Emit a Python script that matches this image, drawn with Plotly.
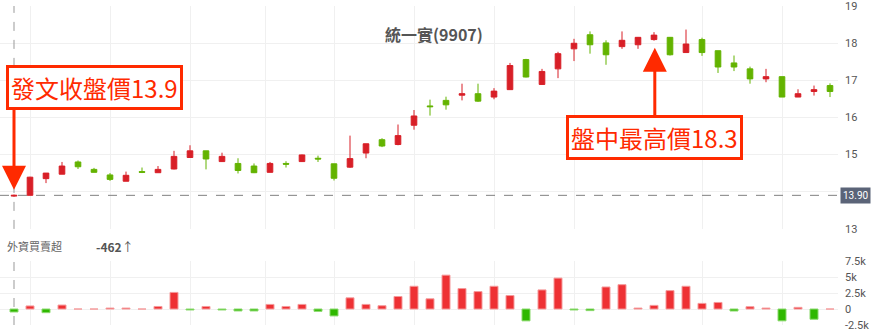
import plotly.graph_objects as go

# ---------------- data ----------------
idx = list(range(52))
opens = [13.88, 13.90, 14.35, 14.47, 14.80, 14.60, 14.45, 14.28, 14.54, 14.51,
         14.61, 14.92, 15.10, 14.81, 14.76, 14.69, 14.52, 14.76, 14.81, 14.90,
         14.75, 14.66, 15.04, 15.40, 15.27, 15.79, 16.31, 16.46, 16.60, 16.64,
         16.55, 16.75, 17.56, 16.89, 17.31, 17.85, 18.23, 18.01, 17.91, 17.96,
         18.10, 18.16, 17.75, 18.10, 17.80, 17.47, 17.31, 17.04, 17.10, 16.55,
         16.70, 16.86]
highs = [13.92, 14.40, 14.50, 14.80, 14.84, 14.64, 14.50, 14.54, 14.65, 14.69,
         15.10, 15.25, 15.10, 15.05, 14.90, 14.76, 14.80, 14.82, 15.00, 14.97,
         14.75, 15.51, 15.29, 15.44, 15.81, 16.20, 16.48, 16.56, 16.91, 16.91,
         16.79, 17.47, 17.58, 17.31, 17.77, 18.12, 18.32, 18.08, 18.32, 18.17,
         18.30, 18.17, 18.37, 18.15, 17.80, 17.67, 17.37, 17.31, 17.10, 16.76,
         16.86, 16.92]
lows = [13.86, 13.90, 14.23, 14.47, 14.61, 14.52, 14.29, 14.28, 14.50, 14.51,
        14.60, 14.92, 14.60, 14.80, 14.49, 14.50, 14.52, 14.65, 14.80, 14.80,
        14.30, 14.64, 14.90, 15.20, 15.25, 15.67, 16.05, 16.21, 16.46, 16.42,
        16.49, 16.75, 17.08, 16.88, 17.06, 17.52, 17.72, 17.42, 17.85, 17.85,
        18.07, 17.67, 17.75, 17.66, 17.20, 17.25, 16.91, 16.95, 16.55, 16.55,
        16.59, 16.55]
closes = [13.90, 14.39, 14.50, 14.69, 14.67, 14.52, 14.33, 14.44, 14.52, 14.60,
          14.95, 15.10, 14.88, 14.95, 14.57, 14.51, 14.76, 14.74, 14.99, 14.88,
          14.36, 14.89, 15.29, 15.23, 15.51, 16.04, 16.29, 16.34, 16.64, 16.44,
          16.71, 17.40, 17.09, 17.24, 17.72, 18.00, 17.96, 17.69, 18.08, 18.16,
          18.22, 17.69, 17.98, 17.75, 17.36, 17.36, 17.04, 17.10, 16.55, 16.64,
          16.75, 16.70]
foreign = [-462, 480, -570, 620, 0, 0, 150, 150, 0, 400,
           2600, -150, 400, -150, -300, -300, 720, 400, 720, -360,
           -1080, 1750, 720, 515, 1960, 3560, 1600, 5300, 3200, 2730,
           3560, 2110, -1850, 2990, 4840, -150, -250, 3450, 3810, 150,
           570, 2880, 3560, 880, 1030, -310, 360, 150, -1850, 260,
           -1600, 0]

title_text = "統一實(9907)"
ref_close = 13.90
left_label = "發文收盤價13.9"
right_label = "盤中最高價18.3"
foreign_label = "外資買賣超"
price_ticks = [13, 14, 15, 16, 17, 18, 19]
price_ticktext = ["13", "", "15", "16", "17", "18", "19"]
flow_ticks = [-2500, 0, 2500, 5000, 7500]
flow_ticktext = ["-2.5k", "0", "2.5k", "5k", "7.5k"]
grid_x = [1, 6, 11, 15.7, 20.05, 25, 30, 35, 43, 48]

RED = "#d81f27"
GREEN = "#63b300"
ANN = "#ff2a00"
CJK = "Noto Sans CJK TC"

fig = go.Figure()

fig.add_trace(go.Candlestick(
    x=idx, open=opens, high=highs, low=lows, close=closes,
    increasing=dict(line=dict(color=RED, width=1), fillcolor=RED),
    decreasing=dict(line=dict(color=GREEN, width=1), fillcolor=GREEN),
    whiskerwidth=0, xaxis="x", yaxis="y", showlegend=False, hoverinfo="skip"))

bar_colors = ["#ee3134" if v >= 0 else "#2fb800" for v in foreign]
bar_lines = ["#f59a9b" if v >= 0 else "#8ad96c" for v in foreign]
fig.add_trace(go.Bar(
    x=idx, y=foreign, width=0.5,
    marker=dict(color=bar_colors, line=dict(color=bar_lines, width=1)),
    xaxis="x2", yaxis="y2", showlegend=False, hoverinfo="skip"))

H_TOP = 4
H_BOT = 325
PH = H_BOT - H_TOP


def py(px):
    return (H_BOT - px) / PH


PW = 838


def pxx(px):
    return px / PW


axis_common = dict(range=[-0.875, 51.5], tickvals=grid_x, showticklabels=False,
                   showgrid=True, gridcolor="#f0f0f0", gridwidth=1, zeroline=False,
                   ticks="", showline=False)

fig.update_layout(
    width=876, height=332,
    margin=dict(l=0, r=38, t=H_TOP, b=332 - H_BOT),
    paper_bgcolor="white", plot_bgcolor="white",
    boxgap=0.5, bargap=0.5,
    xaxis=dict(axis_common, anchor="y", rangeslider=dict(visible=False)),
    xaxis2=dict(axis_common, anchor="y2", matches="x"),
    yaxis=dict(domain=[py(228.3), 1], range=[12.995, 19.005], side="right",
               tickvals=price_ticks, ticktext=price_ticktext, showgrid=True, gridcolor="#f0f0f0",
               zeroline=False, ticks="", tickfont=dict(size=11, color="#555", family="Roboto"),
               ticklabelstandoff=6),
    yaxis2=dict(domain=[0, py(260.7)], range=[-2500, 7500], side="right",
                tickvals=flow_ticks, ticktext=flow_ticktext, showgrid=True,
                gridcolor="#f0f0f0", zeroline=False, ticks="",
                tickfont=dict(size=11, color="#555", family="Roboto"),
                ticklabelstandoff=6),
    font=dict(family=CJK),
)

# reference close dashed line and vertical marker lines
fig.add_shape(type="line", xref="x domain", yref="y", x0=0, x1=1, y0=ref_close, y1=ref_close,
              line=dict(color="#808080", width=1, dash="dash"))
fig.add_shape(type="line", xref="x", yref="y domain", x0=idx[0], x1=idx[0], y0=0, y1=1,
              line=dict(color="#999", width=1, dash="dash"))
fig.add_shape(type="line", xref="x2", yref="y2 domain", x0=idx[0], x1=idx[0], y0=0, y1=1,
              line=dict(color="#999", width=1, dash="dash"))

annos = []
annos.append(dict(xref="paper", yref="y", x=1, y=ref_close, xanchor="left", yanchor="middle",
                  xshift=2, text=f"{ref_close:.2f}", showarrow=False,
                  bgcolor="#5b6478", font=dict(color="white", size=10, family="Roboto"),
                  borderpad=2))
annos.append(dict(xref="paper", yref="paper", x=pxx(433.5), y=py(32), xanchor="center",
                  yanchor="middle", text=f"<b>{title_text}</b>",
                  showarrow=False, font=dict(size=16, color="#555", family=CJK)))
# arrows
annos.append(dict(xref="x", yref="y", x=idx[0], y=14.05, ax=0, ay=-82, axref="pixel", ayref="pixel",
                  text="", showarrow=True, arrowhead=2, arrowwidth=3, arrowsize=1.6,
                  arrowcolor=ANN, standoff=0, startstandoff=0))
annos.append(dict(xref="x", yref="y", x=40.05, y=17.88, ax=0, ay=72, axref="pixel", ayref="pixel",
                  text="", showarrow=True, arrowhead=2, arrowwidth=3, arrowsize=1.6,
                  arrowcolor=ANN, standoff=0, startstandoff=0))
# label boxes
annos.append(dict(xref="paper", yref="paper", x=pxx(94), y=py(86.5), xanchor="center",
                  yanchor="middle", text=left_label,
                  showarrow=False, bgcolor="white", bordercolor=ANN, borderwidth=3, borderpad=2,
                  font=dict(size=24, color=ANN, family=CJK)))
annos.append(dict(xref="paper", yref="paper", x=pxx(654.5), y=py(136.5), xanchor="center",
                  yanchor="middle", text=right_label,
                  showarrow=False, bgcolor="white", bordercolor=ANN, borderwidth=3, borderpad=2,
                  font=dict(size=24, color=ANN, family=CJK)))
# lower panel label
annos.append(dict(xref="paper", yref="paper", x=pxx(5), y=py(246), xanchor="left", yanchor="middle",
                  text=foreign_label,
                  showarrow=False, font=dict(size=11, color="#666", family=CJK)))
annos.append(dict(xref="paper", yref="paper", x=pxx(94), y=py(246), xanchor="left", yanchor="middle",
                  text=f"<b>{foreign[0]}</b>↑", showarrow=False,
                  font=dict(size=12, color="#555", family=CJK)))
fig.update_layout(annotations=annos)

fig.write_html("out.html")
